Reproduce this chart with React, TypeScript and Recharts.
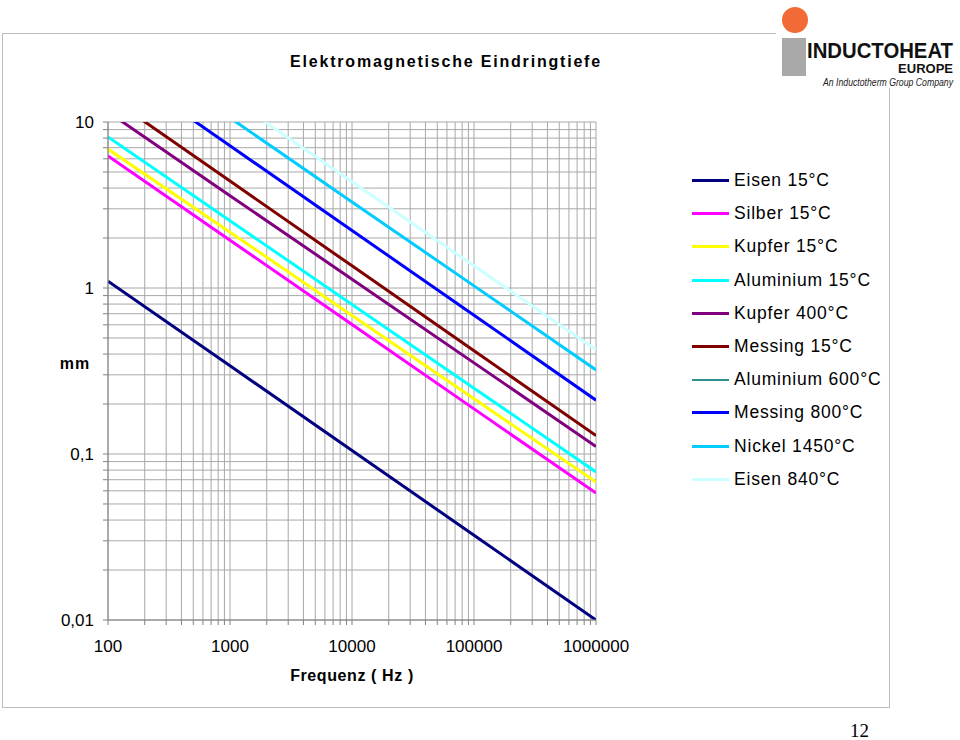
import React from "react";
import { LineChart, Line, XAxis, YAxis, CartesianGrid } from "recharts";

const frequencies = [100, 1000, 10000, 100000, 1000000];

// penetration depth in mm per material
const eisen15 = [1.1, 0.34, 0.105, 0.0324, 0.01];
const silber15 = [6.24, 1.94, 0.603, 0.187, 0.0582];
const kupfer15 = [6.87, 2.17, 0.683, 0.215, 0.0678];
const aluminium15 = [8.12, 2.54, 0.796, 0.249, 0.078];
const kupfer400 = [11.5, 3.6, 1.13, 0.354, 0.111];
const messing15 = [14.3, 4.41, 1.36, 0.419, 0.129];
const aluminium600: number[] = [];
const messing800 = [23.3, 7.19, 2.22, 0.686, 0.211];
const nickel1450 = [34.0, 10.6, 3.3, 1.03, 0.321];
const eisen840 = [44.9, 14.0, 4.36, 1.36, 0.424];

const xTicks = [
  100, 200, 300, 400, 500, 600, 700, 800, 900,
  1000, 2000, 3000, 4000, 5000, 6000, 7000, 8000, 9000,
  10000, 20000, 30000, 40000, 50000, 60000, 70000, 80000, 90000,
  100000, 200000, 300000, 400000, 500000, 600000, 700000, 800000, 900000,
  1000000,
];
const xLabels: Record<number, string> = {
  100: "100",
  1000: "1000",
  10000: "10000",
  100000: "100000",
  1000000: "1000000",
};

const yTicks = [
  0.01, 0.02, 0.03, 0.04, 0.05, 0.06, 0.07, 0.08, 0.09,
  0.1, 0.2, 0.3, 0.4, 0.5, 0.6, 0.7, 0.8, 0.9,
  1, 2, 3, 4, 5, 6, 7, 8, 9,
  10,
];
const yLabels: Record<number, string> = { 0.01: "0,01", 0.1: "0,1", 1: "1", 10: "10" };

const series = [
  { key: "eisen15", name: "Eisen 15°C", color: "#000080", width: 3, values: eisen15 },
  { key: "silber15", name: "Silber 15°C", color: "#FF00FF", width: 3, values: silber15 },
  { key: "kupfer15", name: "Kupfer 15°C", color: "#FFFF00", width: 3, values: kupfer15 },
  { key: "aluminium15", name: "Aluminium 15°C", color: "#00FFFF", width: 3, values: aluminium15 },
  { key: "kupfer400", name: "Kupfer 400°C", color: "#800080", width: 3, values: kupfer400 },
  { key: "messing15", name: "Messing 15°C", color: "#800000", width: 3, values: messing15 },
  { key: "aluminium600", name: "Aluminium 600°C", color: "#2F8F8F", width: 2, values: aluminium600 },
  { key: "messing800", name: "Messing 800°C", color: "#0000FF", width: 3, values: messing800 },
  { key: "nickel1450", name: "Nickel 1450°C", color: "#00CCFF", width: 3, values: nickel1450 },
  { key: "eisen840", name: "Eisen 840°C", color: "#CCFFFF", width: 3, values: eisen840 },
];

const data = frequencies.map((f, i) => {
  const row: Record<string, number | null> = { f };
  series.forEach((s) => {
    row[s.key] = s.values.length ? s.values[i] : null;
  });
  return row;
});

const FONT = "'Liberation Sans', Arial, sans-serif";

export default function App() {
  return (
    <div style={{ position: "absolute", left: 0, top: 0, width: 960, height: 740, background: "#fff", fontFamily: FONT }}>
      {/* slide frame + logo */}
      <svg width={960} height={740} style={{ position: "absolute", left: 0, top: 0 }}>
        <line x1={2} y1={33.5} x2={776} y2={33.5} stroke="#bdbdbd" />
        <line x1={2.5} y1={33} x2={2.5} y2={707} stroke="#bdbdbd" />
        <line x1={2} y1={707.5} x2={890} y2={707.5} stroke="#bdbdbd" />
        <line x1={889.5} y1={88} x2={889.5} y2={708} stroke="#bdbdbd" />
        <circle cx={795} cy={20} r={13} fill="#F26A36" />
        <rect x={782} y={38} width={24} height={38} fill="#A9A9A9" />
        <text x={807} y={58} fontSize={22} fontWeight={900} fill="#111" textLength={146} lengthAdjust="spacingAndGlyphs" fontFamily={FONT}>
          INDUCTOHEAT
        </text>
        <text x={953} y={73} fontSize={13} fontWeight={900} fill="#111" textAnchor="end" fontFamily={FONT}>
          EUROPE
        </text>
        <text x={953} y={86} fontSize={10} fontStyle="italic" fill="#222" textAnchor="end" textLength={130} lengthAdjust="spacingAndGlyphs" fontFamily={FONT}>
          An Inductotherm Group Company
        </text>
      </svg>

      <div style={{ position: "absolute", left: 240, width: 412, top: 53, textAlign: "center", fontSize: 16, fontWeight: "bold", letterSpacing: 1.8 }}>
        Elektromagnetische Eindringtiefe
      </div>

      <div style={{ position: "absolute", left: 0, top: 0 }}>
        <LineChart width={640} height={700} data={data} margin={{ top: 122, right: 44, left: 0, bottom: 50 }}>
          <CartesianGrid stroke="#a8a8a8" strokeWidth={1} />
          <XAxis
            dataKey="f"
            type="number"
            scale="log"
            domain={[100, 1000000]}
            ticks={xTicks}
            interval={0}
            allowDataOverflow
            height={30}
            tickSize={5}
            tickMargin={15}
            tickFormatter={(v: number) => xLabels[v] ?? ""}
            tick={{ fontSize: 17, fill: "#000", fontFamily: FONT }}
            axisLine={{ stroke: "#808080" }}
            tickLine={{ stroke: "#808080" }}
          />
          <YAxis
            type="number"
            scale="log"
            domain={[0.01, 10]}
            ticks={yTicks}
            interval={0}
            allowDataOverflow
            width={108}
            tickSize={5}
            tickMargin={9}
            tickFormatter={(v: number) => yLabels[v] ?? ""}
            tick={{ fontSize: 17, fill: "#000", fontFamily: FONT }}
            axisLine={{ stroke: "#808080" }}
            tickLine={{ stroke: "#808080" }}
          />
          {series
            .filter((s) => s.values.length > 0)
            .map((s) => (
              <Line
                key={s.key}
                dataKey={s.key}
                name={s.name}
                stroke={s.color}
                strokeWidth={s.width}
                dot={false}
                type="linear"
                isAnimationActive={false}
              />
            ))}
        </LineChart>
      </div>

      <div style={{ position: "absolute", left: 52, top: 355, width: 46, textAlign: "center", fontSize: 16, fontWeight: "bold", letterSpacing: 1 }}>mm</div>
      <div style={{ position: "absolute", left: 242, width: 220, top: 667, textAlign: "center", fontSize: 16, fontWeight: "bold", letterSpacing: 0.6 }}>
        Frequenz ( Hz )
      </div>

      {/* legend */}
      <div style={{ position: "absolute", left: 692, top: 164 }}>
        {series.map((s) => (
          <div key={s.key} style={{ display: "flex", alignItems: "center", height: 33.2 }}>
            <div style={{ width: 37, height: s.width, background: s.color }} />
            <span style={{ marginLeft: 5, fontSize: 17.5, letterSpacing: 0.8, color: "#000", whiteSpace: "nowrap" }}>{s.name}</span>
          </div>
        ))}
      </div>

      <div style={{ position: "absolute", left: 850, top: 720, fontSize: 19, fontFamily: "'Liberation Serif', serif" }}>12</div>
    </div>
  );
}
